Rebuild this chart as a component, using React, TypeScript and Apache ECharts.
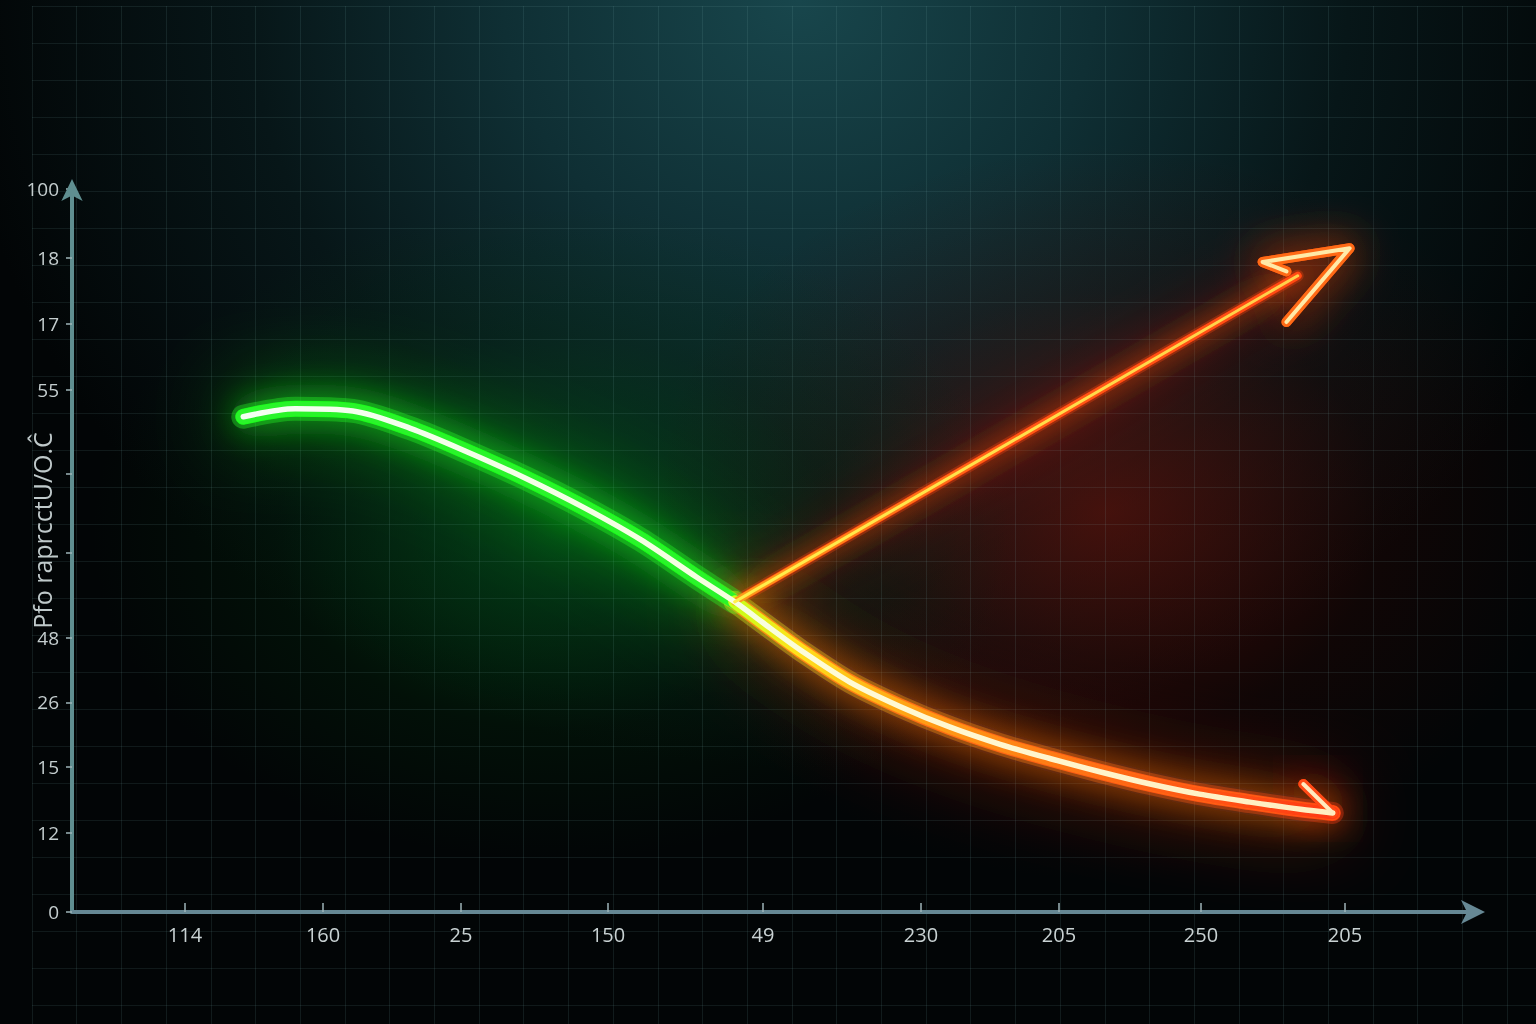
import * as echarts from 'echarts';
import { useEffect, useRef } from 'react';

// axis ticks (0–100 scale on both axes, ticks sit at uneven places)
const xTickValues = [8.05, 17.88, 27.71, 38.18, 49.22, 60.47, 70.3, 80.41, 90.67];
const xTickLabels = ['114', '160', '25', '150', '49', '230', '205', '250', '205'];
const yTickValues = [0, 10.9, 20.1, 29.0, 37.9, 49.7, 60.6, 72.2, 81.3, 90.5, 100];
const yTickLabels = ['0', '12', '15', '26', '48', '', '', '55', '17', '18', '100'];
const yAxisName = 'Pfo raprcctU/O.Ĉ';

// the falling curve: green part, then the warm part after the split
const fallGreen: [number, number][] = [
  [12.2, 68.5],
  [15.9, 69.6],
  [20.0, 69.3],
  [24.1, 66.9],
  [28.2, 63.6],
  [32.3, 60.0],
  [36.4, 56.0],
  [40.5, 51.5],
  [44.5, 46.3],
  [47.2, 42.9],
];
const fallWarm: [number, number][] = [
  [47.2, 42.9],
  [49.7, 39.3],
  [51.9, 36.2],
  [55.4, 31.8],
  [59.0, 28.4],
  [62.5, 25.6],
  [66.1, 23.2],
  [69.7, 21.2],
  [73.2, 19.4],
  [76.8, 17.7],
  [80.3, 16.3],
  [83.9, 15.2],
  [87.5, 14.2],
  [89.8, 13.7],
];
const fallArrowBarb: [number, number][] = [
  [87.7, 17.7],
  [89.8, 13.7],
];

// the rising straight line and its arrow head
const rise: [number, number][] = [
  [47.2, 42.9],
  [87.3, 88.0],
];
const riseArrowHead: [number, number][] = [
  [86.5, 81.6],
  [91.0, 91.8],
  [84.8, 89.9],
  [86.5, 88.6],
];

const FONT = '"Open Sans", "Noto Sans", sans-serif';

function labelFor(values: number[], labels: string[], v: number) {
  let best = 0;
  values.forEach((t, i) => {
    if (Math.abs(t - v) < Math.abs(values[best] - v)) best = i;
  });
  return labels[best];
}

function hGrad(stops: [number, string][]) {
  return new echarts.graphic.LinearGradient(
    0,
    0,
    1,
    0,
    stops.map(([offset, color]) => ({ offset, color })),
  );
}

function line(name: string, data: [number, number][], extra: Record<string, unknown>) {
  return {
    name,
    type: 'line',
    data,
    showSymbol: false,
    silent: true,
    xAxisIndex: 0,
    yAxisIndex: 0,
    ...extra,
  };
}

const curve = { smooth: 0.3 };

// an opaque stroke hidden under the body, used only for its blurred shadow
function glow(name: string, data: [number, number][], color: string, blur: number, width: number, smooth = false) {
  return line(name, data, {
    ...(smooth ? curve : {}),
    z: 2,
    lineStyle: { width, color, shadowBlur: blur, shadowColor: color, cap: 'round', join: 'round' },
  });
}

// translucent wide band that widens the coloured part of the tube
function band(name: string, data: [number, number][], color: unknown, width: number, smooth = false) {
  return line(name, data, {
    ...(smooth ? curve : {}),
    z: 3,
    lineStyle: { width, color, cap: 'round', join: 'round' },
  });
}

const warmStops = (a: number): [number, string][] => [
  [0, `rgba(200,255,24,${a})`],
  [0.1, `rgba(255,226,28,${a})`],
  [0.3, `rgba(255,160,21,${a})`],
  [0.7, `rgba(255,96,20,${a})`],
  [1, `rgba(255,58,20,${a})`],
];

function buildOption() {
  const fallAll = [...fallGreen, ...fallWarm.slice(1)];
  return {
    animation: false,
    backgroundColor: 'transparent',
    grid: [
      { left: 72, right: 60, top: 189, bottom: 112, outerBoundsMode: 'none', containLabel: false },
      { left: 32, right: 0, top: 6, bottom: 0, outerBoundsMode: 'none', containLabel: false },
    ],
    xAxis: [
      {
        type: 'value',
        min: 0,
        max: 100,
        gridIndex: 0,
        splitLine: { show: false },
        axisLine: {
          show: true,
          symbol: ['none', 'arrow'],
          symbolSize: [18, 24],
          symbolOffset: [0, 9],
          lineStyle: { width: 4, color: '#668894' },
        },
        axisTick: {
          show: true,
          inside: true,
          length: 9,
          customValues: xTickValues,
          lineStyle: { color: '#9fb4b8', width: 1.5 },
        },
        axisLabel: {
          customValues: xTickValues,
          margin: 12,
          color: '#c9d2d3',
          fontSize: 20,
          fontFamily: FONT,
          formatter: (v: number) => labelFor(xTickValues, xTickLabels, v),
        },
      },
      {
        type: 'value',
        min: 0,
        max: 1504,
        interval: 44.7,
        gridIndex: 1,
        axisLine: { show: false },
        axisTick: { show: false },
        axisLabel: { show: false },
        splitLine: { show: true, lineStyle: { color: 'rgba(120,175,175,0.13)', width: 1 } },
      },
    ],
    yAxis: [
      {
        type: 'value',
        min: 0,
        max: 100,
        gridIndex: 0,
        name: yAxisName,
        nameLocation: 'middle',
        nameRotate: 90,
        nameGap: 18,
        nameMoveOverlap: false,
        nameTextStyle: {
          color: '#bfc9ca',
          fontSize: 25,
          fontFamily: FONT,
          padding: [0, 0, 0, 40],
        },
        splitLine: { show: false },
        axisLine: {
          show: true,
          symbol: ['none', 'arrow'],
          symbolSize: [16, 22],
          symbolOffset: [0, 10],
          lineStyle: { width: 4, color: '#5f8e90' },
        },
        axisTick: {
          show: true,
          length: 6,
          customValues: yTickValues,
          lineStyle: { color: '#9fb4b8', width: 1.5 },
        },
        axisLabel: {
          customValues: yTickValues,
          margin: 13,
          color: '#c4cdce',
          fontSize: 19,
          fontFamily: FONT,
          formatter: (v: number) => labelFor(yTickValues, yTickLabels, v),
        },
      },
      {
        type: 'value',
        min: 0,
        max: 1018,
        interval: 37,
        inverse: true,
        gridIndex: 1,
        axisLine: { show: false },
        axisTick: { show: false },
        axisLabel: { show: false },
        splitLine: { show: true, lineStyle: { color: 'rgba(120,175,175,0.12)', width: 1 } },
      },
    ],
    series: [
      // blurred glows
      glow('glowGreenWide', fallGreen, '#10ff10', 80, 16, true),
      glow('glowGreenNear', fallGreen, '#20ff20', 34, 14, true),
      glow('glowWarmWide', fallWarm, '#ff4010', 80, 16, true),
      glow('glowWarmNear', fallWarm, '#ff7a14', 34, 14, true),
      glow('glowRiseWide', rise, '#ff2a08', 56, 8),
      glow('glowRiseNear', rise, '#ff4a10', 24, 7),
      glow('glowRiseHead', riseArrowHead, '#ff4a08', 44, 10),
      glow('glowFallBarb', fallArrowBarb, '#ff2a08', 44, 10),
      // widened translucent tube
      band('bandGreen', fallGreen, 'rgba(40,255,40,0.35)', 24, true),
      band('bandWarm', fallWarm, hGrad(warmStops(0.35)), 22, true),
      band('bandRise', rise, 'rgba(255,70,20,0.3)', 12),
      // coloured bodies
      line('fallBodyGreen', fallGreen, {
        ...curve,
        z: 4,
        lineStyle: { width: 14, cap: 'round', color: '#2af42a' },
      }),
      line('fallBodyWarm', fallWarm, {
        ...curve,
        z: 4,
        lineStyle: { width: 13, cap: 'round', color: hGrad(warmStops(1)) },
      }),
      line('riseBody', rise, {
        z: 4,
        lineStyle: {
          width: 7,
          cap: 'round',
          color: hGrad([
            [0, '#ff9a1a'],
            [0.5, '#ff5a16'],
            [1, '#ff4a14'],
          ]),
        },
      }),
      line('riseHeadBody', riseArrowHead, {
        z: 4,
        lineStyle: { width: 10, color: '#ff6a16', cap: 'round', join: 'round' },
      }),
      line('fallBarbBody', fallArrowBarb, {
        z: 4,
        lineStyle: { width: 10, color: '#ff4a16', cap: 'round' },
      }),
      // bright cores
      line('fallCore', fallAll, {
        ...curve,
        z: 5,
        lineStyle: {
          width: 5.5,
          cap: 'round',
          color: hGrad([
            [0, '#f4fff2'],
            [0.45, '#f6ffe0'],
            [0.55, '#fffbd6'],
            [1, '#ffeec0'],
          ]),
        },
      }),
      line('riseCore', rise, {
        z: 5,
        lineStyle: {
          width: 3,
          cap: 'round',
          color: hGrad([
            [0, '#fff04a'],
            [1, '#ffcf4a'],
          ]),
        },
      }),
      line('riseHeadCore', riseArrowHead, {
        z: 5,
        lineStyle: { width: 4, color: '#ffeaa8', cap: 'round', join: 'round' },
      }),
      line('fallBarbCore', fallArrowBarb, {
        z: 5,
        lineStyle: { width: 4, color: '#ffeac0', cap: 'round' },
      }),
    ],
  };
}

export default function App() {
  const ref = useRef<HTMLDivElement | null>(null);

  useEffect(() => {
    if (!ref.current) return;
    const chart = echarts.init(ref.current, undefined, { renderer: 'svg' });
    chart.setOption(buildOption());
    return () => chart.dispose();
  }, []);

  return (
    <div
      style={{
        position: 'fixed',
        left: 0,
        top: 0,
        width: 1536,
        height: 1024,
        background: [
          'radial-gradient(ellipse 30% 32% at 36% 52%, rgba(0,100,25,0.55), rgba(0,60,15,0.2) 60%, transparent 100%)',
          'radial-gradient(ellipse 30% 36% at 72% 50%, rgba(120,18,8,0.55), rgba(70,10,5,0.2) 60%, transparent 100%)',
          'radial-gradient(ellipse 55% 75% at 52% 0%, #18464c 0%, #0f2f34 35%, #071618 65%, #020506 100%)',
        ].join(', '),
      }}
    >
      <div ref={ref} style={{ width: 1536, height: 1024 }} />
    </div>
  );
}
